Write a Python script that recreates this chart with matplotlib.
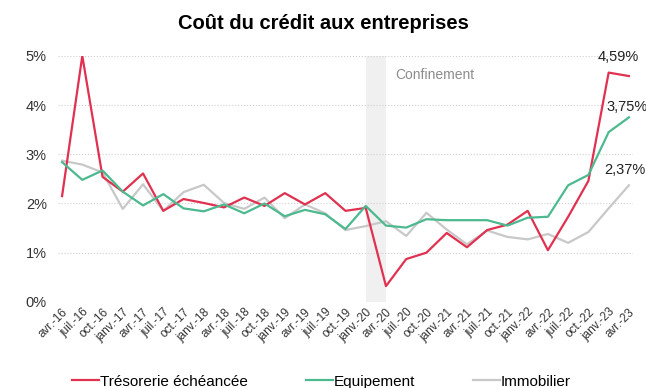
import numpy as np
import matplotlib
matplotlib.use("Agg")
import matplotlib.pyplot as plt
from matplotlib.ticker import FuncFormatter
from matplotlib.lines import Line2D

plt.rcParams['font.family'] = ['Liberation Sans', 'DejaVu Sans']

quarters = ["avr.-16", "juil.-16", "oct.-16",
            "janv.-17", "avr.-17", "juil.-17", "oct.-17",
            "janv.-18", "avr.-18", "juil.-18", "oct.-18",
            "janv.-19", "avr.-19", "juil.-19", "oct.-19",
            "janv.-20", "avr.-20", "juil.-20", "oct.-20",
            "janv.-21", "avr.-21", "juil.-21", "oct.-21",
            "janv.-22", "avr.-22", "juil.-22", "oct.-22",
            "janv.-23", "avr.-23"]

tresorerie = [2.15, 5.0, 2.54, 2.24, 2.61, 1.85, 2.09, 2.01, 1.92, 2.12, 1.95,
              2.21, 1.98, 2.21, 1.85, 1.91, 0.32, 0.87, 1.0, 1.40, 1.11, 1.46,
              1.57, 1.85, 1.05, 1.73, 2.46, 4.66, 4.59]
equipement = [2.84, 2.48, 2.67, 2.24, 1.96, 2.19, 1.90, 1.84, 1.98, 1.80, 2.0,
              1.74, 1.87, 1.78, 1.48, 1.95, 1.55, 1.51, 1.68, 1.66, 1.66, 1.66,
              1.55, 1.71, 1.73, 2.37, 2.58, 3.45, 3.75]
immobilier = [2.87, 2.79, 2.63, 1.89, 2.39, 1.85, 2.23, 2.38, 2.01, 1.89, 2.12,
              1.70, 1.98, 1.80, 1.46, 1.54, 1.64, 1.34, 1.81, 1.47, 1.17, 1.45,
              1.32, 1.27, 1.38, 1.20, 1.42, 1.90, 2.37]
series_names = ["Trésorerie échéancée", "Equipement", "Immobilier"]
last_labels = ["4,59%", "3,75%", "2,37%"]

red = "#e03150"
green = "#4cb98f"
grey = "#c8c8c8"
colors = [red, green, grey]

fig = plt.figure(figsize=(6.46, 3.88), dpi=100)
ax = fig.add_axes([0.0898, 0.222, 0.89, 0.634])

x = np.arange(len(quarters))

# confinement shading between janv.-20 and avr.-20
ax.axvspan(15, 16, color="#f0f0f0", zorder=0, lw=0)
ax.text(16.45, 4.62, "Confinement", color="#8c8c8c", fontsize=10, va="center")

for vals, c, name, z in zip([tresorerie, equipement, immobilier], colors, series_names, [3, 3, 2]):
    ax.plot(x, vals, color=c, lw=1.6, label=name, zorder=z)

# end labels
ax.text(27.46, 4.97, last_labels[0], ha="center", va="center", fontsize=10.5, color="#222222")
ax.text(27.9, 3.97, last_labels[1], ha="center", va="center", fontsize=10.5, color="#222222")
ax.text(27.8, 2.69, last_labels[2], ha="center", va="center", fontsize=10.5, color="#222222")

ax.set_xlim(-0.2, 28.2)
ax.set_ylim(0, 5)
ax.set_yticks([0, 1, 2, 3, 4, 5])
ax.yaxis.set_major_formatter(FuncFormatter(lambda v, p: "%d%%" % v))
ax.set_xticks(x)
ax.set_xticklabels(quarters, rotation=45, ha="right", rotation_mode="anchor", fontsize=8.5)
ax.tick_params(axis="y", labelsize=10.5, length=0, pad=8, colors="#333333")
ax.tick_params(axis="x", length=0, pad=3, colors="#333333")
ax.grid(axis="y", color="#d0d0d0", linestyle=":", lw=0.8)
for s in ax.spines.values():
    s.set_visible(False)

fig.text(0.5, 0.94, "Coût du crédit aux entreprises", fontsize=14.5, fontweight="bold",
         ha="center", va="center")

# legend entries placed like the original (uneven spacing)
for c, name, lx in zip(colors, series_names, [72, 306, 473]):
    h = Line2D([], [], color=c, lw=1.6)
    fig.legend([h], [name], loc="center left", bbox_to_anchor=(lx / 646, 0.016),
               frameon=False, fontsize=11, handlelength=1.75, handletextpad=0.05,
               borderpad=0, borderaxespad=0)

fig.savefig("out.png", dpi=100)
